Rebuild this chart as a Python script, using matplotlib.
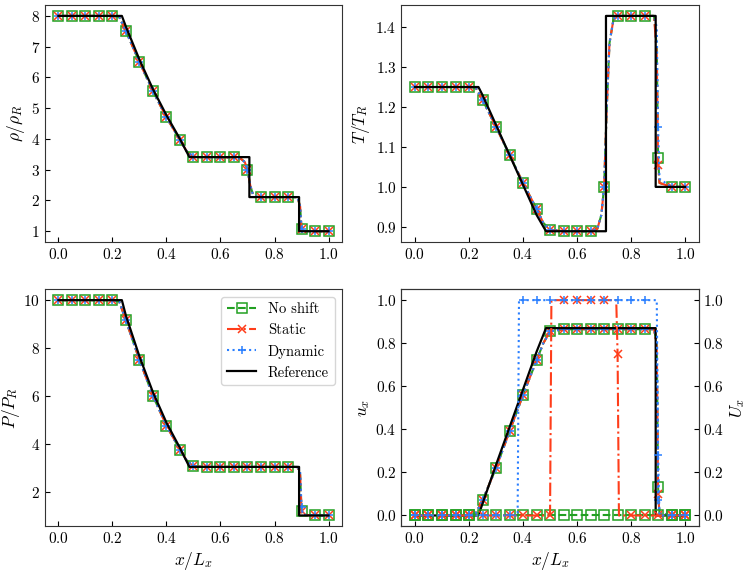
import numpy as np
import matplotlib
matplotlib.use('Agg')
import matplotlib.pyplot as plt

plt.rcParams['font.family'] = 'serif'
plt.rcParams['font.serif'] = ['cmr10']
plt.rcParams['mathtext.fontset'] = 'cm'
plt.rcParams['axes.formatter.use_mathtext'] = True
plt.rcParams['xtick.direction'] = 'in'
plt.rcParams['ytick.direction'] = 'in'
plt.rcParams['xtick.labelsize'] = 11
plt.rcParams['ytick.labelsize'] = 11
plt.rcParams['axes.labelsize'] = 12.5
plt.rcParams['axes.labelpad'] = 2.5
plt.rcParams['axes.edgecolor'] = '#333333'

# numerical solutions, markers drawn every 0.05
x_num = [0.00, 0.05, 0.10, 0.15, 0.20, 0.225, 0.25, 0.30, 0.35, 0.40, 0.45, 0.475,
         0.50, 0.55, 0.60, 0.65, 0.675, 0.69, 0.70, 0.71, 0.72, 0.735, 0.75, 0.80,
         0.85, 0.885, 0.895, 0.90, 0.905, 0.95, 1.00]

rho_num = [8, 8, 8, 8, 8, 7.97, 7.5, 6.5, 5.55, 4.7, 3.97, 3.6,
           3.42, 3.4, 3.4, 3.4, 3.36, 3.25, 3.0, 2.5, 2.2, 2.12, 2.11, 2.11,
           2.11, 2.11, 1.8, 1.07, 1.01, 1.0, 1.0]

T_noshift = [1.25, 1.25, 1.25, 1.25, 1.25, 1.248, 1.218, 1.15, 1.08, 1.01, 0.945, 0.91,
             0.893, 0.889, 0.889, 0.889, 0.895, 0.93, 1.0, 1.2, 1.36, 1.42, 1.428, 1.428,
             1.428, 1.428, 1.35, 1.072, 1.01, 1.0, 1.0]
T_static = [1.25, 1.25, 1.25, 1.25, 1.25, 1.248, 1.218, 1.15, 1.08, 1.01, 0.945, 0.91,
            0.893, 0.889, 0.889, 0.889, 0.895, 0.93, 1.0, 1.2, 1.36, 1.42, 1.428, 1.428,
            1.428, 1.428, 1.33, 1.055, 1.01, 1.0, 1.0]
T_dynamic = [1.25, 1.25, 1.25, 1.25, 1.25, 1.248, 1.218, 1.15, 1.08, 1.01, 0.945, 0.91,
             0.893, 0.889, 0.889, 0.889, 0.895, 0.93, 1.0, 1.2, 1.36, 1.42, 1.428, 1.428,
             1.428, 1.428, 1.40, 1.15, 1.02, 1.0, 1.0]

P_noshift = [10, 10, 10, 10, 10, 9.95, 9.15, 7.5, 6.0, 4.75, 3.75, 3.3,
             3.05, 3.03, 3.03, 3.03, 3.03, 3.03, 3.03, 3.03, 3.03, 3.03, 3.03, 3.03,
             3.03, 3.03, 2.7, 1.2, 1.02, 1.0, 1.0]
P_static = [10, 10, 10, 10, 10, 9.95, 9.15, 7.5, 6.0, 4.75, 3.75, 3.3,
            3.05, 3.03, 3.03, 3.03, 3.03, 3.03, 3.03, 3.03, 3.03, 3.03, 3.03, 3.03,
            3.03, 3.03, 2.7, 1.2, 1.02, 1.0, 1.0]
P_dynamic = [10, 10, 10, 10, 10, 9.95, 9.15, 7.5, 6.0, 4.75, 3.75, 3.3,
             3.05, 3.03, 3.03, 3.03, 3.03, 3.03, 3.03, 3.03, 3.03, 3.03, 3.03, 3.03,
             3.03, 3.03, 2.85, 1.35, 1.03, 1.0, 1.0]

u_noshift = [0, 0, 0, 0, 0, 0.01, 0.07, 0.22, 0.39, 0.56, 0.72, 0.80,
             0.855, 0.865, 0.865, 0.865, 0.865, 0.865, 0.865, 0.865, 0.865, 0.865, 0.865, 0.865,
             0.865, 0.865, 0.80, 0.13, 0.01, 0, 0]
u_static = [0, 0, 0, 0, 0, 0.01, 0.07, 0.22, 0.39, 0.56, 0.72, 0.80,
            0.855, 0.865, 0.865, 0.865, 0.865, 0.865, 0.865, 0.865, 0.865, 0.865, 0.865, 0.865,
            0.865, 0.865, 0.78, 0.10, 0.01, 0, 0]
u_dynamic = [0, 0, 0, 0, 0, 0.01, 0.07, 0.22, 0.39, 0.56, 0.72, 0.80,
             0.855, 0.865, 0.865, 0.865, 0.865, 0.865, 0.865, 0.865, 0.865, 0.865, 0.865, 0.865,
             0.865, 0.865, 0.82, 0.07, 0.01, 0, 0]

# shift velocity U_x
x_shift = [0.00, 0.05, 0.10, 0.15, 0.20, 0.25, 0.30, 0.35, 0.38, 0.385, 0.40, 0.45,
           0.50, 0.505, 0.55, 0.60, 0.65, 0.70, 0.745, 0.75, 0.755, 0.80, 0.85,
           0.895, 0.90, 0.905, 0.95, 1.00]
U_noshift = [0] * 28
U_static = [0, 0, 0, 0, 0, 0, 0, 0, 0, 0, 0, 0,
            0, 1, 1, 1, 1, 1, 1, 0.75, 0, 0, 0,
            0, 0, 0, 0, 0]
U_dynamic = [0, 0, 0, 0, 0, 0, 0, 0, 0, 1, 1, 1,
             1, 1, 1, 1, 1, 1, 1, 1, 1, 1, 1,
             1, 0.28, 0, 0, 0]

# exact (reference) solution
x_ref = [0.0, 0.235, 0.25, 0.30, 0.35, 0.40, 0.45, 0.485, 0.707, 0.707, 0.891, 0.891, 1.0]
rho_ref = [8, 8, 7.65, 6.58, 5.62, 4.77, 4.0, 3.41, 3.41, 2.11, 2.11, 1.0, 1.0]
T_ref = [1.25, 1.25, 1.23, 1.155, 1.08, 1.005, 0.93, 0.889, 0.889, 1.428, 1.428, 1.0, 1.0]
P_ref = [10, 10, 9.35, 7.65, 6.15, 4.88, 3.82, 3.03, 3.03, 3.03, 3.03, 1.0, 1.0]
u_ref = [0, 0, 0.055, 0.235, 0.41, 0.585, 0.76, 0.87, 0.87, 0.87, 0.87, 0.0, 0.0]

labels = ['No shift', 'Static', 'Dynamic']
colors = ['#22a022', '#ff3d1a', '#2a7fff']
styles = ['--', '-.', ':']
marks = ['s', 'x', '+']

mask_num = np.isclose(np.array(x_num) * 20, np.round(np.array(x_num) * 20))
mask_shift = np.isclose(np.array(x_shift) * 20, np.round(np.array(x_shift) * 20))


def plot_methods(ax, x, series, mask):
    for y, lab, c, ls, m in zip(series, labels, colors, styles, marks):
        if m == 's':
            ax.plot(x, y, ls, color=c, marker=m, markevery=mask, markersize=7,
                    markerfacecolor='none', markeredgewidth=1.1, lw=1.5, label=lab)
        else:
            ax.plot(x, y, ls, color=c, marker=m, markevery=mask, markersize=6,
                    markeredgewidth=1.1, lw=1.5, label=lab)


fig, axs = plt.subplots(2, 2, figsize=(7.48, 5.72), dpi=100)
fig.subplots_adjust(left=0.060, right=0.934, bottom=0.080, top=0.991, wspace=0.2, hspace=0.2)

ax = axs[0, 0]
plot_methods(ax, x_num, [rho_num, rho_num, rho_num], mask_num)
ax.plot(x_ref, rho_ref, 'k-', lw=1.6, label='Reference')
ax.set_ylabel(r'$\rho/\rho_R$')
ax.set_yticks([1, 2, 3, 4, 5, 6, 7, 8])

ax = axs[0, 1]
plot_methods(ax, x_num, [T_noshift, T_static, T_dynamic], mask_num)
ax.plot(x_ref, T_ref, 'k-', lw=1.6, label='Reference')
ax.set_ylabel(r'$T/T_R$')

ax = axs[1, 0]
plot_methods(ax, x_num, [P_noshift, P_static, P_dynamic], mask_num)
ax.plot(x_ref, P_ref, 'k-', lw=1.6, label='Reference')
ax.set_ylabel(r'$P/P_R$', labelpad=1)
ax.set_xlabel(r'$x/L_x$')
ax.legend(loc='upper right', fontsize=10.5, handlelength=2.0)

ax = axs[1, 1]
plot_methods(ax, x_num, [u_noshift, u_static, u_dynamic], mask_num)
ax.plot(x_ref, u_ref, 'k-', lw=1.6, label='Reference')
ax.set_ylabel(r'$u_x$')
ax.set_xlabel(r'$x/L_x$')
ax2 = ax.twinx()
plot_methods(ax2, x_shift, [U_noshift, U_static, U_dynamic], mask_shift)
ax2.set_ylabel(r'$U_x$')
ax.set_ylim(-0.05, 1.05)
ax2.set_ylim(-0.05, 1.05)

for a in axs.flat:
    a.set_xlim(-0.05, 1.05)
    a.set_xticks([0.0, 0.2, 0.4, 0.6, 0.8, 1.0])

fig.savefig('out.png', dpi=100)
